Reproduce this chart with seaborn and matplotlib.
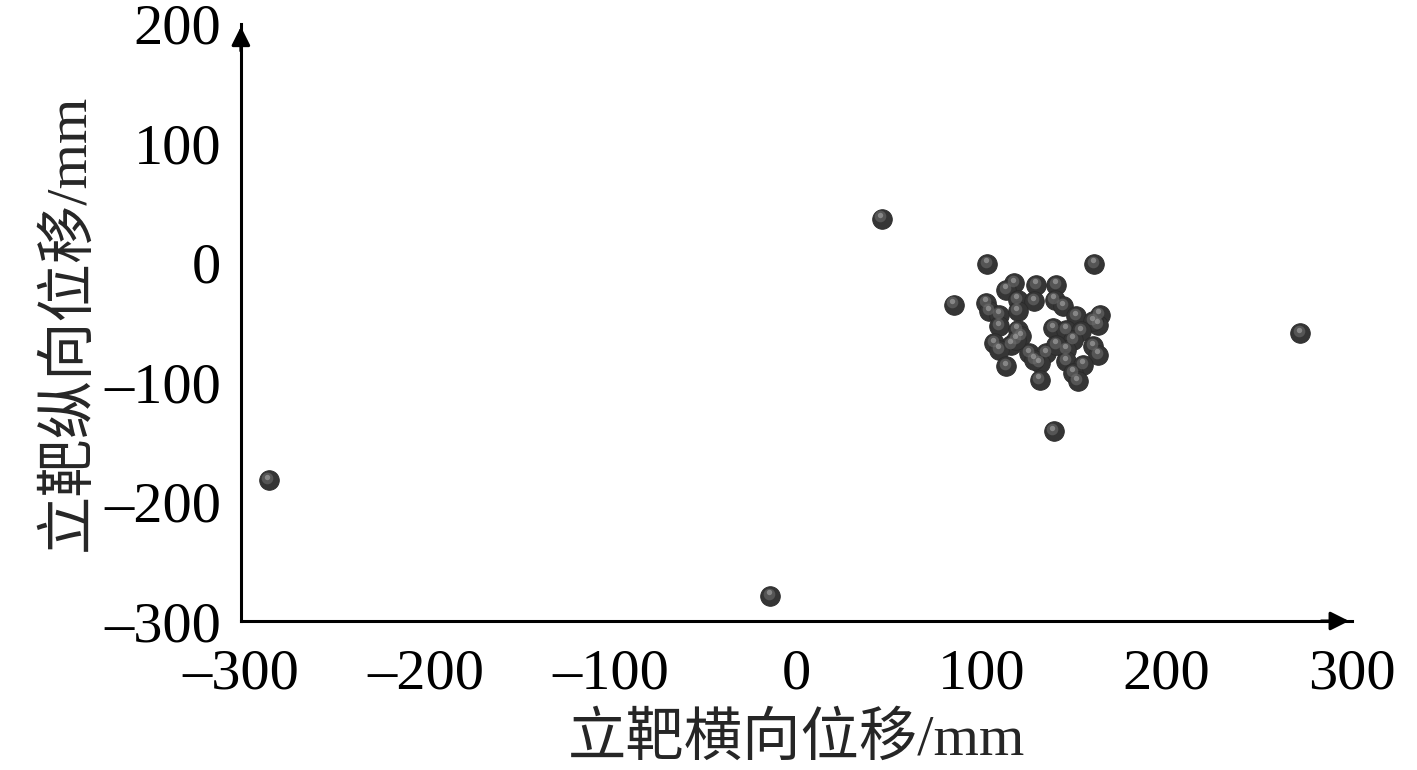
import numpy as np
import pandas as pd
import matplotlib
matplotlib.use("Agg")
import matplotlib.pyplot as plt
import matplotlib.transforms as mtransforms
import seaborn as sns

# ---- data ----
x_mm = [46, 85, 103, 161, 272, 139, -285, -14,
        117.8, 113.3, 129.6, 140.4, 119.6, 128.6, 139.5, 144.0, 102.5, 104.3,
        109.7, 119.6, 151.2, 163.8, 162.9, 160.2, 109.7, 119.6, 121.4, 138.6,
        145.8, 153.9, 149.4, 107.0, 116.0, 109.7, 125.9, 135.0, 145.8, 160.2,
        162.9, 113.3, 131.4, 131.4, 145.8, 154.8, 149.4, 152.0, 118.8, 140.4,
        128.6]
y_mm = [37, -35, -1, -1, -59, -141, -182, -279,
        -17.0, -22.6, -18.4, -18.4, -31.0, -32.4, -31.0, -36.5, -33.7, -40.7,
        -43.5, -40.7, -44.9, -43.5, -51.9, -49.1, -53.3, -56.1, -61.6, -54.7,
        -56.1, -57.5, -64.4, -67.2, -68.6, -72.8, -75.6, -75.6, -72.8, -70.0,
        -77.0, -86.8, -84.0, -97.9, -82.6, -85.4, -92.3, -99.3, -64.4, -68.6,
        -81.2]
x_ticks = [-300, -200, -100, 0, 100, 200, 300]
y_ticks = [-300, -200, -100, 0, 100, 200]
x_label = "立靶横向位移/mm"
y_label = "立靶纵向位移/mm"

df = pd.DataFrame({"x": x_mm, "y": y_mm})

sns.set_theme(style="white")
plt.rcParams["font.family"] = ["Liberation Serif", "Noto Sans CJK SC", "DejaVu Sans"]

fig = plt.figure(figsize=(14.17, 7.7), dpi=100)
ax = fig.add_axes([0.170, 0.1935, 0.784, 0.7755])

# sphere-like markers: dark base + lighter highlight shifted up-left
sns.scatterplot(data=df, x="x", y="y", ax=ax, s=200, color="#353535",
                edgecolor="#2a2a2a", linewidth=0.6, zorder=3, legend=False)
hl = mtransforms.offset_copy(ax.transData, fig=fig, x=-1.0, y=1.5, units="points")
ax.scatter(df["x"], df["y"], s=70, color="#707070", alpha=0.55,
           linewidths=0, zorder=4, transform=hl)
hl2 = mtransforms.offset_copy(ax.transData, fig=fig, x=-1.0, y=2.5, units="points")
ax.scatter(df["x"], df["y"], s=15, color="#a8a8a8", alpha=0.6,
           linewidths=0, zorder=5, transform=hl2)

ax.set_xlim(-300, 300)
ax.set_ylim(-300, 200)
ax.set_xticks(x_ticks)
ax.set_yticks(y_ticks)
ax.set_xticklabels([f"{v:d}".replace("-", "\u2013") for v in x_ticks])
ax.set_yticklabels([f"{v:d}".replace("-", "\u2013") for v in y_ticks])

for s in ["top", "right"]:
    ax.spines[s].set_visible(False)
for s in ["left", "bottom"]:
    ax.spines[s].set_color("black")
    ax.spines[s].set_linewidth(2.2)

ax.tick_params(axis="both", direction="in", length=7, width=1.5,
               colors="black", labelsize=42)
ax.tick_params(axis="x", pad=20)
ax.tick_params(axis="y", pad=14)
ax.grid(False)

# axis arrows
ax.annotate("", xy=(1.0, 0), xycoords="axes fraction", xytext=(0.97, 0),
            arrowprops=dict(arrowstyle="-|>", color="black", lw=2.2,
                            mutation_scale=28), annotation_clip=False)
ax.annotate("", xy=(0, 1.0), xycoords="axes fraction", xytext=(0, 0.95),
            arrowprops=dict(arrowstyle="-|>", color="black", lw=2.2,
                            mutation_scale=28), annotation_clip=False)

ax.set_xlabel(x_label, fontsize=42,
              family=["Liberation Serif", "Noto Sans CJK SC"], labelpad=8)
ax.set_ylabel(y_label, fontsize=42,
              family=["Liberation Serif", "Noto Sans CJK SC"], labelpad=6)

fig.savefig("out.png", dpi=100, facecolor="white")
